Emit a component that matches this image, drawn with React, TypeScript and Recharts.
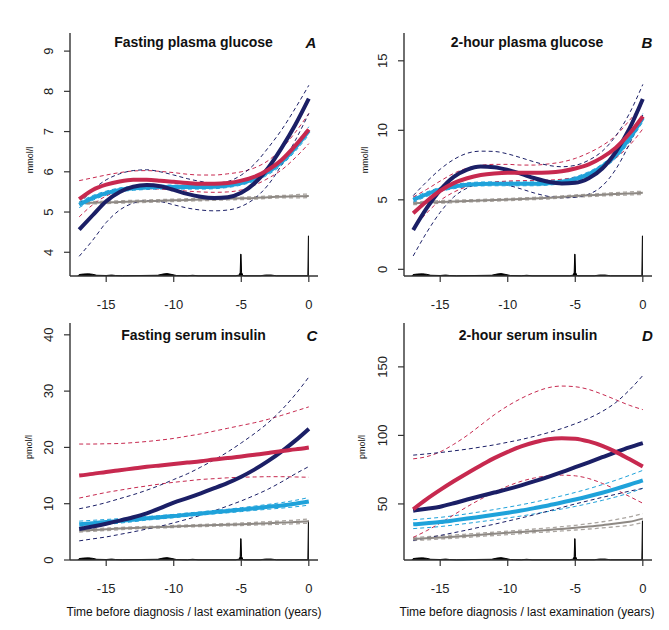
import React from "react";
import {
  ComposedChart,
  Line,
  Area,
  XAxis,
  YAxis,
} from "recharts";

// time axis shared by all four panels (years before diagnosis)
const years = [-17, -16, -15, -14, -13, -12, -11, -10, -9, -8, -7, -6, -5, -4, -3, -2, -1, 0];
const xTicks = [-15, -10, -5, 0];

// A: fasting plasma glucose (mmol/l)
const fpgNavy = [4.56, 4.92, 5.27, 5.5, 5.63, 5.67, 5.64, 5.55, 5.45, 5.38, 5.35, 5.37, 5.48, 5.72, 6.1, 6.6, 7.17, 7.82];
const fpgNavyHi = [5.2, 5.55, 5.8, 5.95, 6.03, 6.05, 6.0, 5.92, 5.83, 5.76, 5.72, 5.76, 5.92, 6.2, 6.6, 7.05, 7.58, 8.15];
const fpgNavyLo = [3.9, 4.3, 4.74, 5.05, 5.22, 5.28, 5.26, 5.18, 5.1, 5.05, 5.03, 5.05, 5.14, 5.34, 5.68, 6.18, 6.78, 7.45];
const fpgRed = [5.32, 5.55, 5.68, 5.76, 5.8, 5.8, 5.78, 5.75, 5.72, 5.7, 5.7, 5.72, 5.78, 5.88, 6.05, 6.3, 6.65, 7.05];
const fpgRedHi = [5.78, 5.85, 5.92, 5.98, 6.02, 6.03, 6.01, 5.98, 5.94, 5.92, 5.92, 5.95, 6.0, 6.1, 6.28, 6.58, 6.98, 7.45];
const fpgRedLo = [4.88, 5.18, 5.4, 5.52, 5.57, 5.58, 5.57, 5.55, 5.52, 5.5, 5.49, 5.5, 5.55, 5.67, 5.84, 6.05, 6.35, 6.7];
const fpgCyan = [5.18, 5.35, 5.47, 5.55, 5.59, 5.61, 5.62, 5.62, 5.62, 5.62, 5.63, 5.66, 5.72, 5.83, 6.0, 6.25, 6.6, 7.02];
const fpgCyanHi = [5.25, 5.41, 5.52, 5.6, 5.64, 5.66, 5.67, 5.67, 5.67, 5.67, 5.68, 5.71, 5.77, 5.89, 6.07, 6.33, 6.69, 7.12];
const fpgCyanLo = [5.11, 5.29, 5.42, 5.5, 5.54, 5.56, 5.57, 5.57, 5.57, 5.57, 5.58, 5.61, 5.67, 5.77, 5.93, 6.17, 6.51, 6.92];
const fpgGrey = [5.22, 5.23, 5.24, 5.25, 5.26, 5.27, 5.28, 5.29, 5.3, 5.31, 5.32, 5.33, 5.34, 5.35, 5.37, 5.38, 5.39, 5.4];
const fpgGreyHi = [5.25, 5.26, 5.27, 5.28, 5.29, 5.3, 5.31, 5.32, 5.33, 5.34, 5.35, 5.36, 5.37, 5.38, 5.4, 5.41, 5.43, 5.45];
const fpgGreyLo = [5.19, 5.2, 5.21, 5.22, 5.23, 5.24, 5.25, 5.26, 5.27, 5.28, 5.29, 5.3, 5.31, 5.32, 5.34, 5.35, 5.35, 5.36];

// B: 2-hour plasma glucose (mmol/l)
const ogNavy = [2.83, 4.4, 5.7, 6.65, 7.18, 7.4, 7.35, 7.15, 6.86, 6.55, 6.3, 6.18, 6.22, 6.55, 7.25, 8.45, 10.1, 12.25];
const ogNavyHi = [5.3, 6.3, 7.2, 7.9, 8.35, 8.5, 8.48, 8.3, 8.02, 7.72, 7.48, 7.38, 7.48, 7.85, 8.5, 9.6, 11.2, 13.3];
const ogNavyLo = [0.96, 2.65, 4.1, 5.2, 5.85, 6.15, 6.2, 6.05, 5.78, 5.48, 5.25, 5.15, 5.18, 5.4, 6.0, 7.2, 9.0, 11.1];
const ogRed = [4.03, 4.9, 5.65, 6.2, 6.55, 6.78, 6.9, 6.95, 6.95, 6.95, 6.97, 7.05, 7.25, 7.55, 8.05, 8.75, 9.75, 11.0];
const ogRedHi = [5.2, 5.75, 6.35, 6.9, 7.28, 7.48, 7.55, 7.55, 7.5, 7.5, 7.58, 7.72, 7.98, 8.38, 8.9, 9.62, 10.7, 11.9];
const ogRedLo = [2.9, 4.05, 4.95, 5.55, 5.95, 6.15, 6.28, 6.35, 6.38, 6.4, 6.42, 6.48, 6.6, 6.88, 7.3, 8.0, 8.9, 10.1];
const ogCyan = [5.0, 5.4, 5.75, 5.95, 6.08, 6.14, 6.15, 6.15, 6.15, 6.15, 6.2, 6.3, 6.5, 6.85, 7.4, 8.2, 9.4, 10.9];
const ogCyanHi = [5.18, 5.56, 5.9, 6.1, 6.22, 6.28, 6.29, 6.29, 6.29, 6.29, 6.34, 6.45, 6.66, 7.02, 7.58, 8.42, 9.65, 11.2];
const ogCyanLo = [4.82, 5.24, 5.6, 5.8, 5.94, 6.0, 6.01, 6.01, 6.01, 6.01, 6.06, 6.15, 6.34, 6.68, 7.22, 7.98, 9.15, 10.6];
const ogGrey = [4.75, 4.8, 4.85, 4.88, 4.92, 4.95, 4.98, 5.02, 5.06, 5.1, 5.14, 5.2, 5.27, 5.32, 5.37, 5.42, 5.46, 5.5];
const ogGreyHi = [4.85, 4.9, 4.94, 4.97, 5.0, 5.03, 5.06, 5.1, 5.14, 5.18, 5.22, 5.28, 5.35, 5.41, 5.46, 5.52, 5.57, 5.62];
const ogGreyLo = [4.65, 4.7, 4.76, 4.79, 4.84, 4.87, 4.9, 4.94, 4.98, 5.02, 5.06, 5.12, 5.19, 5.23, 5.28, 5.32, 5.35, 5.38];

// C: fasting serum insulin (pmol/l)
const fsiNavy = [5.5, 5.95, 6.45, 7.0, 7.6, 8.3, 9.2, 10.2, 11.0, 11.85, 12.75, 13.7, 14.8, 16.1, 17.6, 19.3, 21.2, 23.3];
const fsiNavyHi = [9.1, 9.6, 10.2, 10.9, 11.6, 12.4, 13.3, 14.3, 15.3, 16.5, 17.8, 19.2, 20.8, 22.5, 24.4, 26.7, 29.4, 32.5];
const fsiNavyLo = [3.4, 3.75, 4.1, 4.55, 5.0, 5.5, 6.0, 6.6, 7.25, 7.95, 8.75, 9.6, 10.5, 11.5, 12.6, 13.9, 15.3, 16.6];
const fsiRed = [15.0, 15.3, 15.65, 15.95, 16.25, 16.55, 16.8, 17.05, 17.3, 17.55, 17.85, 18.1, 18.4, 18.7, 19.0, 19.35, 19.65, 20.0];
const fsiRedHi = [20.6, 20.6, 20.65, 20.7, 20.85, 21.05, 21.3, 21.6, 22.0, 22.4, 22.9, 23.4, 23.9, 24.4, 25.0, 25.7, 26.45, 27.2];
const fsiRedLo = [11.0, 11.5, 12.0, 12.4, 12.8, 13.15, 13.5, 13.8, 14.05, 14.3, 14.45, 14.6, 14.7, 14.75, 14.8, 14.8, 14.75, 14.7];
const fsiCyan = [6.35, 6.55, 6.75, 6.95, 7.15, 7.4, 7.6, 7.8, 8.05, 8.25, 8.5, 8.7, 8.95, 9.2, 9.45, 9.7, 10.0, 10.4];
const fsiCyanHi = [6.9, 7.05, 7.2, 7.35, 7.5, 7.72, 7.9, 8.1, 8.35, 8.55, 8.8, 9.02, 9.3, 9.58, 9.88, 10.2, 10.6, 11.1];
const fsiCyanLo = [5.85, 6.05, 6.3, 6.55, 6.8, 7.08, 7.3, 7.5, 7.75, 7.95, 8.2, 8.38, 8.6, 8.82, 9.02, 9.22, 9.45, 9.75];
const fsiGrey = [5.2, 5.33, 5.45, 5.58, 5.7, 5.78, 5.85, 5.95, 6.05, 6.12, 6.2, 6.28, 6.35, 6.45, 6.55, 6.65, 6.75, 6.9];
const fsiGreyHi = [5.45, 5.56, 5.67, 5.78, 5.88, 5.96, 6.03, 6.13, 6.23, 6.31, 6.4, 6.49, 6.57, 6.69, 6.82, 6.95, 7.08, 7.3];
const fsiGreyLo = [4.95, 5.1, 5.23, 5.38, 5.52, 5.6, 5.67, 5.77, 5.87, 5.93, 6.0, 6.07, 6.13, 6.21, 6.28, 6.35, 6.42, 6.55];

// D: 2-hour serum insulin (pmol/l)
const osiNavy = [45.1, 46.5, 48.0, 50.5, 53.2, 55.8, 58.3, 60.8, 63.6, 66.6, 69.8, 73.2, 76.8, 80.4, 84.1, 87.8, 91.3, 94.4];
const osiNavyHi = [85.6, 86.5, 87.5, 88.7, 90.0, 91.5, 93.1, 95.0, 97.0, 99.4, 102.0, 105.0, 108.5, 112.5, 117.5, 124.0, 133.0, 143.7];
const osiNavyLo = [23.5, 25.2, 27.0, 29.0, 31.0, 33.2, 35.2, 37.5, 39.8, 42.2, 44.8, 47.4, 50.0, 52.4, 54.8, 57.0, 59.3, 61.3];
const osiRed = [46.1, 53.5, 60.2, 66.5, 72.4, 78.0, 83.4, 88.0, 92.0, 95.0, 97.2, 98.0, 97.6, 95.6, 92.4, 88.0, 82.7, 77.3];
const osiRedHi = [82.9, 84.5, 88.0, 93.5, 100.0, 107.5, 115.0, 121.5, 127.0, 131.5, 134.8, 136.0, 135.5, 133.5, 130.0, 126.0, 122.0, 118.8];
const osiRedLo = [25.6, 30.5, 36.0, 42.0, 48.0, 53.5, 58.5, 63.0, 66.5, 69.0, 70.5, 71.0, 70.5, 68.5, 65.0, 60.5, 55.5, 50.5];
const osiCyan = [35.1, 35.9, 36.8, 38.0, 39.3, 40.7, 42.1, 43.6, 45.2, 47.0, 48.9, 51.0, 53.2, 55.6, 58.2, 61.0, 64.0, 67.2];
const osiCyanHi = [38.5, 39.3, 40.2, 41.4, 42.8, 44.3, 45.9, 47.6, 49.4, 51.4, 53.6, 55.9, 58.4, 61.1, 64.1, 67.3, 70.8, 74.5];
const osiCyanLo = [32.0, 32.7, 33.5, 34.6, 35.8, 37.1, 38.4, 39.8, 41.2, 42.8, 44.5, 46.3, 48.2, 50.3, 52.6, 55.1, 58.0, 61.5];
const osiGrey = [24.4, 24.9, 25.5, 26.1, 26.8, 27.5, 28.2, 28.9, 29.6, 30.3, 31.0, 31.8, 32.6, 33.5, 34.5, 35.7, 37.0, 39.3];
const osiGreyHi = [25.6, 26.1, 26.7, 27.3, 28.0, 28.7, 29.4, 30.2, 30.9, 31.7, 32.5, 33.4, 34.4, 35.6, 37.0, 38.6, 40.5, 43.0];
const osiGreyLo = [23.3, 23.8, 24.4, 25.0, 25.6, 26.3, 27.0, 27.6, 28.3, 29.0, 29.6, 30.3, 31.0, 31.7, 32.5, 33.4, 34.4, 36.5];

// distribution of examination times (share of plot height), drawn along the x axis
const histT = [-17.1, -17.0, -16.7, -16.3, -16.0, -15.7, -15.0, -14.6, -14.3, -13.8, -11.2, -10.8, -10.5, -10.2, -9.8, -9.0, -8.6, -8.2, -5.4, -5.15, -5.08, -5.04, -5.02, -4.98, -4.95, -4.9, -4.8, -3.6, -3.2, -2.8, -2.4, -0.07, -0.03, 0.0];
const histH = [0, 0.006, 0.008, 0.009, 0.007, 0.003, 0.002, 0.004, 0.002, 0.001, 0.003, 0.008, 0.01, 0.007, 0.002, 0.001, 0.003, 0.001, 0.001, 0.004, 0.015, 0.09, 0.09, 0.015, 0.012, 0.004, 0.001, 0.001, 0.004, 0.004, 0.001, 0.001, 0.165, 0.165];

const NAVY = "#1b1f66";
const RED = "#c7294f";
const CYAN = "#1fa2da";
const GREY = "#8e8984";
const GREY_CI = "#aaa5a0";
const AXIS = "#333";
const FONT = '"Liberation Sans", Arial, sans-serif';

const histData = histT.map((t, i) => ({ t, h: histH[i] }));

function buildRows(cols: Record<string, number[]>) {
  return years.map((t, i) => {
    const row: Record<string, number> = { t };
    Object.keys(cols).forEach((k) => {
      row[k] = cols[k][i];
    });
    return row;
  });
}

// drawing order: confidence bands first, then the fitted curves
const lineStyles = [
  { key: "greyHi", color: GREY_CI, width: 1.3, dash: "4 3" },
  { key: "greyLo", color: GREY_CI, width: 1.3, dash: "4 3" },
  { key: "cyanHi", color: CYAN, width: 1, dash: "4 3" },
  { key: "cyanLo", color: CYAN, width: 1, dash: "4 3" },
  { key: "redHi", color: RED, width: 1, dash: "4 3" },
  { key: "redLo", color: RED, width: 1, dash: "4 3" },
  { key: "navyHi", color: NAVY, width: 1, dash: "4 3" },
  { key: "navyLo", color: NAVY, width: 1, dash: "4 3" },
  { key: "grey", color: GREY, width: 2, dash: undefined },
  { key: "cyan", color: CYAN, width: 4, dash: undefined },
  { key: "navy", color: NAVY, width: 4, dash: undefined },
  { key: "red", color: RED, width: 4, dash: undefined },
];

const YTick = (props: any) => {
  const { x, y, payload } = props;
  return (
    <text
      x={x}
      y={y}
      dy={-9}
      transform={`rotate(-90 ${x} ${y})`}
      textAnchor="middle"
      fontSize={13}
      fontFamily={FONT}
      fill="#222"
    >
      {payload.value}
    </text>
  );
};

type PanelProps = {
  left: number;
  top: number;
  plotTop: number;
  plotHeight: number;
  rows: Record<string, number>[];
  yDomain: [number, number];
  yTicks: number[];
};

function Panel({ left, top, plotTop, plotHeight, rows, yDomain, yTicks }: PanelProps) {
  const width = 334;
  const plotWidth = 248;
  const xAxisHeight = 40;
  const height = plotTop + plotHeight + xAxisHeight + 2;
  return (
    <div style={{ position: "absolute", left, top }}>
      <ComposedChart
        width={width}
        height={height}
        data={rows}
        margin={{ top: plotTop, right: width - 70 - plotWidth, bottom: 2, left: 30 }}
      >
        <XAxis
          dataKey="t"
          type="number"
          domain={[-17.68, 0.68]}
          ticks={xTicks}
          allowDataOverflow
          height={xAxisHeight}
          tickSize={6}
          tickMargin={18}
          axisLine={{ stroke: AXIS, strokeWidth: 1.4 }}
          tickLine={{ stroke: AXIS, strokeWidth: 1.2 }}
          tick={{ fontSize: 13, fill: "#222", fontFamily: FONT }}
        />
        <YAxis
          yAxisId="v"
          type="number"
          domain={yDomain}
          ticks={yTicks}
          allowDataOverflow
          width={40}
          tickSize={6}
          tickMargin={2}
          axisLine={{ stroke: AXIS, strokeWidth: 1.4 }}
          tickLine={{ stroke: AXIS, strokeWidth: 1.2 }}
          tick={<YTick />}
        />
        <YAxis yAxisId="h" orientation="right" type="number" domain={[0, 1]} hide />
        <Area
          yAxisId="h"
          data={histData}
          dataKey="h"
          type="linear"
          stroke="#000"
          strokeWidth={1}
          fill="#000"
          fillOpacity={1}
          isAnimationActive={false}
          dot={false}
          activeDot={false}
        />
        {lineStyles.map((s) => (
          <Line
            key={s.key}
            yAxisId="v"
            dataKey={s.key}
            type="monotone"
            stroke={s.color}
            strokeWidth={s.width}
            strokeDasharray={s.dash}
            dot={false}
            activeDot={false}
            isAnimationActive={false}
          />
        ))}
      </ComposedChart>
    </div>
  );
}

const Label = ({ x, y, text, style }: { x: number; y: number; text: string; style?: React.CSSProperties }) => (
  <div
    style={{
      position: "absolute",
      left: x,
      top: y,
      transform: "translate(-50%, -50%)",
      whiteSpace: "nowrap",
      fontFamily: FONT,
      color: "#111",
      lineHeight: 1,
      ...style,
    }}
  >
    {text}
  </div>
);

const titleStyle: React.CSSProperties = { fontSize: 14, fontWeight: 700 };
const letterStyle: React.CSSProperties = { fontSize: 15, fontWeight: 700, fontStyle: "italic" };
const unitStyle: React.CSSProperties = { fontSize: 9, transform: "translate(-50%, -50%) rotate(-90deg)" };
const xlabStyle: React.CSSProperties = { fontSize: 12 };

export default function App() {
  const rowsA = buildRows({
    navy: fpgNavy, navyHi: fpgNavyHi, navyLo: fpgNavyLo,
    red: fpgRed, redHi: fpgRedHi, redLo: fpgRedLo,
    cyan: fpgCyan, cyanHi: fpgCyanHi, cyanLo: fpgCyanLo,
    grey: fpgGrey, greyHi: fpgGreyHi, greyLo: fpgGreyLo,
  });
  const rowsB = buildRows({
    navy: ogNavy, navyHi: ogNavyHi, navyLo: ogNavyLo,
    red: ogRed, redHi: ogRedHi, redLo: ogRedLo,
    cyan: ogCyan, cyanHi: ogCyanHi, cyanLo: ogCyanLo,
    grey: ogGrey, greyHi: ogGreyHi, greyLo: ogGreyLo,
  });
  const rowsC = buildRows({
    navy: fsiNavy, navyHi: fsiNavyHi, navyLo: fsiNavyLo,
    red: fsiRed, redHi: fsiRedHi, redLo: fsiRedLo,
    cyan: fsiCyan, cyanHi: fsiCyanHi, cyanLo: fsiCyanLo,
    grey: fsiGrey, greyHi: fsiGreyHi, greyLo: fsiGreyLo,
  });
  const rowsD = buildRows({
    navy: osiNavy, navyHi: osiNavyHi, navyLo: osiNavyLo,
    red: osiRed, redHi: osiRedHi, redLo: osiRedLo,
    cyan: osiCyan, cyanHi: osiCyanHi, cyanLo: osiCyanLo,
    grey: osiGrey, greyHi: osiGreyHi, greyLo: osiGreyLo,
  });

  return (
    <div style={{ position: "absolute", left: 0, top: 0, width: 669, height: 630, background: "#fff", overflow: "hidden" }}>
      <Panel left={0} top={0} plotTop={33} plotHeight={243} rows={rowsA} yDomain={[3.41, 9.45]} yTicks={[4, 5, 6, 7, 8, 9]} />
      <Panel left={334} top={0} plotTop={33} plotHeight={243} rows={rowsB} yDomain={[-0.48, 17]} yTicks={[0, 5, 10, 15]} />
      <Panel left={0} top={290} plotTop={33} plotHeight={237} rows={rowsC} yDomain={[0, 42.1]} yTicks={[0, 10, 20, 30, 40]} />
      <Panel left={334} top={290} plotTop={33} plotHeight={237} rows={rowsD} yDomain={[9.1, 182]} yTicks={[50, 100, 150]} />

      <Label x={193.5} y={42} text="Fasting plasma glucose" style={titleStyle} />
      <Label x={311} y={42} text="A" style={letterStyle} />
      <Label x={527} y={42} text="2-hour plasma glucose" style={titleStyle} />
      <Label x={647} y={42} text="B" style={letterStyle} />
      <Label x={193.5} y={335} text="Fasting serum insulin" style={titleStyle} />
      <Label x={312} y={335} text="C" style={letterStyle} />
      <Label x={528} y={335} text="2-hour serum insulin" style={titleStyle} />
      <Label x={647.5} y={335} text="D" style={letterStyle} />

      <Label x={30} y={160} text="mmol/l" style={unitStyle} />
      <Label x={365} y={160} text="mmol/l" style={unitStyle} />
      <Label x={29} y={447} text="pmol/l" style={unitStyle} />
      <Label x={362} y={447} text="pmol/l" style={unitStyle} />

      <Label x={194} y={612} text="Time before diagnosis / last examination (years)" style={xlabStyle} />
      <Label x={527} y={612} text="Time before diagnosis / last examination (years)" style={xlabStyle} />
    </div>
  );
}
